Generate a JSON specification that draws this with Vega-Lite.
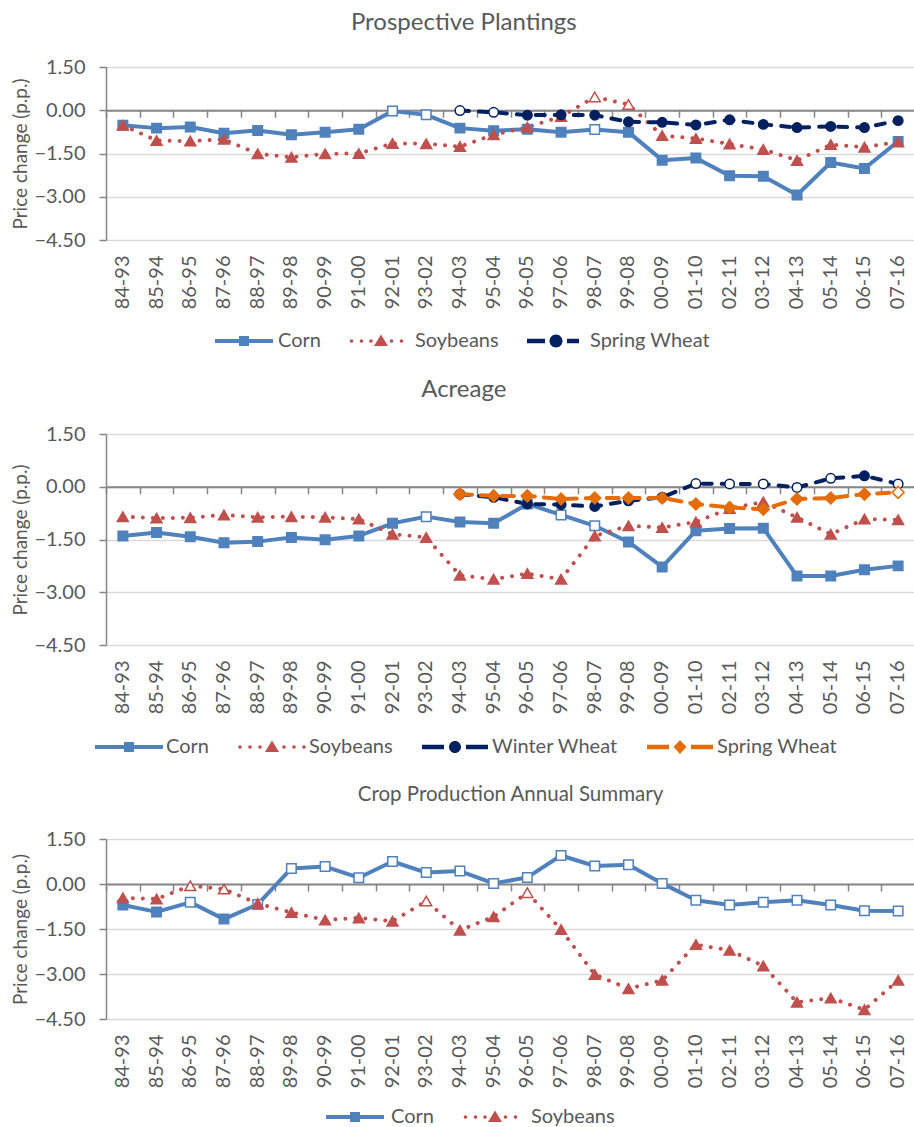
{
"$schema": "https://vega.github.io/schema/vega-lite/v6.json",
"padding": {"left": 11, "top": 11, "right": 0, "bottom": 0},
"bounds": "flush",
"spacing": 194,
"config": {"view": {"stroke": null}, "font": "Lato", "axis": {"labelFont": "Lato", "titleFont": "Lato"}, "legend": {"labelFont": "Lato"}},
"resolve": {"scale": {"fill": "independent", "shape": "independent"}},
"datasets": {
"p1": [
{"c":"84-93","s":"Corn","v":-0.52,"h":0},{"c":"85-94","s":"Corn","v":-0.62,"h":0},{"c":"86-95","s":"Corn","v":-0.58,"h":0},{"c":"87-96","s":"Corn","v":-0.80,"h":0},{"c":"88-97","s":"Corn","v":-0.70,"h":0},{"c":"89-98","s":"Corn","v":-0.85,"h":0},{"c":"90-99","s":"Corn","v":-0.76,"h":0},{"c":"91-00","s":"Corn","v":-0.66,"h":0},{"c":"92-01","s":"Corn","v":-0.03,"h":1},{"c":"93-02","s":"Corn","v":-0.16,"h":1},{"c":"94-03","s":"Corn","v":-0.62,"h":0},{"c":"95-04","s":"Corn","v":-0.71,"h":0},{"c":"96-05","s":"Corn","v":-0.66,"h":0},{"c":"97-06","s":"Corn","v":-0.76,"h":0},{"c":"98-07","s":"Corn","v":-0.67,"h":1},{"c":"99-08","s":"Corn","v":-0.76,"h":0},{"c":"00-09","s":"Corn","v":-1.73,"h":0},{"c":"01-10","s":"Corn","v":-1.66,"h":0},{"c":"02-11","s":"Corn","v":-2.27,"h":0},{"c":"03-12","s":"Corn","v":-2.29,"h":0},{"c":"04-13","s":"Corn","v":-2.94,"h":0},{"c":"05-14","s":"Corn","v":-1.81,"h":0},{"c":"06-15","s":"Corn","v":-2.02,"h":0},{"c":"07-16","s":"Corn","v":-1.08,"h":0},
{"c":"84-93","s":"Soybeans","v":-0.52,"h":0},{"c":"85-94","s":"Soybeans","v":-1.05,"h":0},{"c":"86-95","s":"Soybeans","v":-1.07,"h":0},{"c":"87-96","s":"Soybeans","v":-1.01,"h":0},{"c":"88-97","s":"Soybeans","v":-1.51,"h":0},{"c":"89-98","s":"Soybeans","v":-1.63,"h":0},{"c":"90-99","s":"Soybeans","v":-1.51,"h":0},{"c":"91-00","s":"Soybeans","v":-1.50,"h":0},{"c":"92-01","s":"Soybeans","v":-1.15,"h":0},{"c":"93-02","s":"Soybeans","v":-1.16,"h":0},{"c":"94-03","s":"Soybeans","v":-1.26,"h":0},{"c":"95-04","s":"Soybeans","v":-0.85,"h":0},{"c":"96-05","s":"Soybeans","v":-0.59,"h":0},{"c":"97-06","s":"Soybeans","v":-0.22,"h":0},{"c":"98-07","s":"Soybeans","v":0.46,"h":1},{"c":"99-08","s":"Soybeans","v":0.20,"h":1},{"c":"00-09","s":"Soybeans","v":-0.88,"h":0},{"c":"01-10","s":"Soybeans","v":-0.98,"h":0},{"c":"02-11","s":"Soybeans","v":-1.17,"h":0},{"c":"03-12","s":"Soybeans","v":-1.36,"h":0},{"c":"04-13","s":"Soybeans","v":-1.74,"h":0},{"c":"05-14","s":"Soybeans","v":-1.19,"h":0},{"c":"06-15","s":"Soybeans","v":-1.28,"h":0},{"c":"07-16","s":"Soybeans","v":-1.10,"h":0},
{"c":"94-03","s":"Spring Wheat","v":-0.01,"h":1},{"c":"95-04","s":"Spring Wheat","v":-0.07,"h":1},{"c":"96-05","s":"Spring Wheat","v":-0.17,"h":0},{"c":"97-06","s":"Spring Wheat","v":-0.16,"h":0},{"c":"98-07","s":"Spring Wheat","v":-0.17,"h":0},{"c":"99-08","s":"Spring Wheat","v":-0.40,"h":0},{"c":"00-09","s":"Spring Wheat","v":-0.42,"h":0},{"c":"01-10","s":"Spring Wheat","v":-0.51,"h":0},{"c":"02-11","s":"Spring Wheat","v":-0.33,"h":0},{"c":"03-12","s":"Spring Wheat","v":-0.49,"h":0},{"c":"04-13","s":"Spring Wheat","v":-0.60,"h":0},{"c":"05-14","s":"Spring Wheat","v":-0.56,"h":0},{"c":"06-15","s":"Spring Wheat","v":-0.60,"h":0},{"c":"07-16","s":"Spring Wheat","v":-0.36,"h":0}
],
"p2": [
{"c":"84-93","s":"Corn","v":-1.40,"h":0},{"c":"85-94","s":"Corn","v":-1.30,"h":0},{"c":"86-95","s":"Corn","v":-1.42,"h":0},{"c":"87-96","s":"Corn","v":-1.59,"h":0},{"c":"88-97","s":"Corn","v":-1.56,"h":0},{"c":"89-98","s":"Corn","v":-1.44,"h":0},{"c":"90-99","s":"Corn","v":-1.51,"h":0},{"c":"91-00","s":"Corn","v":-1.40,"h":0},{"c":"92-01","s":"Corn","v":-1.04,"h":0},{"c":"93-02","s":"Corn","v":-0.85,"h":1},{"c":"94-03","s":"Corn","v":-1.00,"h":0},{"c":"95-04","s":"Corn","v":-1.04,"h":0},{"c":"96-05","s":"Corn","v":-0.49,"h":0},{"c":"97-06","s":"Corn","v":-0.80,"h":1},{"c":"98-07","s":"Corn","v":-1.11,"h":1},{"c":"99-08","s":"Corn","v":-1.57,"h":0},{"c":"00-09","s":"Corn","v":-2.28,"h":0},{"c":"01-10","s":"Corn","v":-1.25,"h":0},{"c":"02-11","s":"Corn","v":-1.19,"h":0},{"c":"03-12","s":"Corn","v":-1.18,"h":0},{"c":"04-13","s":"Corn","v":-2.54,"h":0},{"c":"05-14","s":"Corn","v":-2.54,"h":0},{"c":"06-15","s":"Corn","v":-2.36,"h":0},{"c":"07-16","s":"Corn","v":-2.25,"h":0},
{"c":"84-93","s":"Soybeans","v":-0.85,"h":0},{"c":"85-94","s":"Soybeans","v":-0.89,"h":0},{"c":"86-95","s":"Soybeans","v":-0.88,"h":0},{"c":"87-96","s":"Soybeans","v":-0.80,"h":0},{"c":"88-97","s":"Soybeans","v":-0.87,"h":0},{"c":"89-98","s":"Soybeans","v":-0.85,"h":0},{"c":"90-99","s":"Soybeans","v":-0.87,"h":0},{"c":"91-00","s":"Soybeans","v":-0.92,"h":0},{"c":"92-01","s":"Soybeans","v":-1.35,"h":0},{"c":"93-02","s":"Soybeans","v":-1.44,"h":0},{"c":"94-03","s":"Soybeans","v":-2.52,"h":0},{"c":"95-04","s":"Soybeans","v":-2.63,"h":0},{"c":"96-05","s":"Soybeans","v":-2.47,"h":0},{"c":"97-06","s":"Soybeans","v":-2.63,"h":0},{"c":"98-07","s":"Soybeans","v":-1.40,"h":0},{"c":"99-08","s":"Soybeans","v":-1.11,"h":0},{"c":"00-09","s":"Soybeans","v":-1.16,"h":0},{"c":"01-10","s":"Soybeans","v":-1.00,"h":0},{"c":"02-11","s":"Soybeans","v":-0.62,"h":0},{"c":"03-12","s":"Soybeans","v":-0.43,"h":0},{"c":"04-13","s":"Soybeans","v":-0.87,"h":0},{"c":"05-14","s":"Soybeans","v":-1.35,"h":0},{"c":"06-15","s":"Soybeans","v":-0.92,"h":0},{"c":"07-16","s":"Soybeans","v":-0.94,"h":0},
{"c":"94-03","s":"Winter Wheat","v":-0.21,"h":0},{"c":"95-04","s":"Winter Wheat","v":-0.30,"h":0},{"c":"96-05","s":"Winter Wheat","v":-0.49,"h":0},{"c":"97-06","s":"Winter Wheat","v":-0.51,"h":0},{"c":"98-07","s":"Winter Wheat","v":-0.56,"h":0},{"c":"99-08","s":"Winter Wheat","v":-0.40,"h":0},{"c":"00-09","s":"Winter Wheat","v":-0.30,"h":0},{"c":"01-10","s":"Winter Wheat","v":0.09,"h":1},{"c":"02-11","s":"Winter Wheat","v":0.08,"h":1},{"c":"03-12","s":"Winter Wheat","v":0.08,"h":1},{"c":"04-13","s":"Winter Wheat","v":-0.02,"h":1},{"c":"05-14","s":"Winter Wheat","v":0.24,"h":1},{"c":"06-15","s":"Winter Wheat","v":0.31,"h":0},{"c":"07-16","s":"Winter Wheat","v":0.08,"h":1},
{"c":"94-03","s":"Spring Wheat","v":-0.21,"h":0},{"c":"95-04","s":"Spring Wheat","v":-0.26,"h":0},{"c":"96-05","s":"Spring Wheat","v":-0.26,"h":0},{"c":"97-06","s":"Spring Wheat","v":-0.35,"h":0},{"c":"98-07","s":"Spring Wheat","v":-0.32,"h":0},{"c":"99-08","s":"Spring Wheat","v":-0.32,"h":0},{"c":"00-09","s":"Spring Wheat","v":-0.32,"h":0},{"c":"01-10","s":"Spring Wheat","v":-0.49,"h":0},{"c":"02-11","s":"Spring Wheat","v":-0.59,"h":0},{"c":"03-12","s":"Spring Wheat","v":-0.64,"h":0},{"c":"04-13","s":"Spring Wheat","v":-0.35,"h":0},{"c":"05-14","s":"Spring Wheat","v":-0.32,"h":0},{"c":"06-15","s":"Spring Wheat","v":-0.21,"h":0},{"c":"07-16","s":"Spring Wheat","v":-0.16,"h":1}
],
"p3": [
{"c":"84-93","s":"Corn","v":-0.70,"h":0},{"c":"85-94","s":"Corn","v":-0.93,"h":0},{"c":"86-95","s":"Corn","v":-0.61,"h":1},{"c":"87-96","s":"Corn","v":-1.17,"h":0},{"c":"88-97","s":"Corn","v":-0.68,"h":1},{"c":"89-98","s":"Corn","v":0.52,"h":1},{"c":"90-99","s":"Corn","v":0.58,"h":1},{"c":"91-00","s":"Corn","v":0.21,"h":1},{"c":"92-01","s":"Corn","v":0.75,"h":1},{"c":"93-02","s":"Corn","v":0.38,"h":1},{"c":"94-03","s":"Corn","v":0.43,"h":1},{"c":"95-04","s":"Corn","v":0.02,"h":1},{"c":"96-05","s":"Corn","v":0.22,"h":1},{"c":"97-06","s":"Corn","v":0.95,"h":1},{"c":"98-07","s":"Corn","v":0.60,"h":1},{"c":"99-08","s":"Corn","v":0.64,"h":1},{"c":"00-09","s":"Corn","v":0.02,"h":1},{"c":"01-10","s":"Corn","v":-0.54,"h":1},{"c":"02-11","s":"Corn","v":-0.70,"h":1},{"c":"03-12","s":"Corn","v":-0.61,"h":1},{"c":"04-13","s":"Corn","v":-0.54,"h":1},{"c":"05-14","s":"Corn","v":-0.70,"h":1},{"c":"06-15","s":"Corn","v":-0.89,"h":1},{"c":"07-16","s":"Corn","v":-0.90,"h":1},
{"c":"84-93","s":"Soybeans","v":-0.46,"h":0},{"c":"85-94","s":"Soybeans","v":-0.50,"h":0},{"c":"86-95","s":"Soybeans","v":-0.06,"h":1},{"c":"87-96","s":"Soybeans","v":-0.17,"h":1},{"c":"88-97","s":"Soybeans","v":-0.65,"h":0},{"c":"89-98","s":"Soybeans","v":-0.95,"h":0},{"c":"90-99","s":"Soybeans","v":-1.20,"h":0},{"c":"91-00","s":"Soybeans","v":-1.13,"h":0},{"c":"92-01","s":"Soybeans","v":-1.24,"h":0},{"c":"93-02","s":"Soybeans","v":-0.57,"h":1},{"c":"94-03","s":"Soybeans","v":-1.54,"h":0},{"c":"95-04","s":"Soybeans","v":-1.09,"h":0},{"c":"96-05","s":"Soybeans","v":-0.29,"h":1},{"c":"97-06","s":"Soybeans","v":-1.52,"h":0},{"c":"98-07","s":"Soybeans","v":-3.02,"h":0},{"c":"99-08","s":"Soybeans","v":-3.49,"h":0},{"c":"00-09","s":"Soybeans","v":-3.21,"h":0},{"c":"01-10","s":"Soybeans","v":-2.02,"h":0},{"c":"02-11","s":"Soybeans","v":-2.21,"h":0},{"c":"03-12","s":"Soybeans","v":-2.73,"h":0},{"c":"04-13","s":"Soybeans","v":-3.94,"h":0},{"c":"05-14","s":"Soybeans","v":-3.80,"h":0},{"c":"06-15","s":"Soybeans","v":-4.19,"h":0},{"c":"07-16","s":"Soybeans","v":-3.21,"h":0}
]
},
"vconcat": [
{
"width": 809, "height": 173,
"title": {"text": "Prospective Plantings", "fontSize": 24, "font": "Lato", "color": "#595959", "fontWeight": "normal", "anchor": "middle", "frame": "bounds", "offset": 22},
"data": {"name": "p1"},
"layer": [
{"transform": [{"filter": "datum.s==='Corn'"}], "mark": {"type": "line", "color": "#4f81bd", "strokeWidth": 4, "strokeCap": "round", "strokeJoin": "round"},
 "encoding": {"x": {"field": "c", "type": "ordinal", "scale": {"type": "band", "domain": ["84-93","85-94","86-95","87-96","88-97","89-98","90-99","91-00","92-01","93-02","94-03","95-04","96-05","97-06","98-07","99-08","00-09","01-10","02-11","03-12","04-13","05-14","06-15","07-16"], "paddingInner": 0, "paddingOuter": 0}, "axis": {"orient": "bottom", "labelAngle": -90, "labelFontSize": 20, "labelColor": "#595959", "labelPadding": 15, "ticks": false, "domain": false, "grid": false, "title": null}},
  "y": {"field": "v", "type": "quantitative", "scale": {"domain": [-4.5, 1.5], "nice": false, "zero": false}, "axis": {"values": [-4.5, -3, -1.5, 0, 1.5], "format": ".2f", "grid": true, "gridColor": "#d9d9d9", "gridWidth": 1.3, "domain": true, "domainColor": "#868686", "domainWidth": 1.5, "ticks": true, "tickSize": 7, "tickColor": "#868686", "tickWidth": 1.5, "labelFontSize": 20, "labelColor": "#595959", "labelPadding": 14, "title": "Price change (p.p.)", "titleFontSize": 19, "titleColor": "#595959", "titleFontWeight": "normal", "titlePadding": 3}}}},
{"transform": [{"filter": "datum.s==='Soybeans'"}], "mark": {"type": "line", "color": "#c0504d", "strokeWidth": 4, "strokeDash": [0.01, 10], "strokeCap": "round"},
 "encoding": {"x": {"field": "c", "type": "ordinal", "scale": {"type": "band", "domain": ["84-93","85-94","86-95","87-96","88-97","89-98","90-99","91-00","92-01","93-02","94-03","95-04","96-05","97-06","98-07","99-08","00-09","01-10","02-11","03-12","04-13","05-14","06-15","07-16"], "paddingInner": 0, "paddingOuter": 0}, "axis": {"orient": "top", "offset": -43.25, "labels": false, "ticks": true, "tickBand": "extent", "tickSize": -7, "tickColor": "#868686", "tickWidth": 1.5, "domain": true, "domainColor": "#868686", "domainWidth": 1.8, "grid": false, "title": null, "zindex": 0}},
  "y": {"field": "v", "type": "quantitative", "scale": {"domain": [-4.5, 1.5], "nice": false, "zero": false}}}},
{"transform": [{"filter": "datum.s==='Spring Wheat'"}], "mark": {"type": "line", "color": "#002060", "strokeWidth": 4, "strokeDash": [9, 10], "strokeCap": "round"},
 "encoding": {"x": {"field": "c", "type": "ordinal", "scale": {"type": "band", "domain": ["84-93","85-94","86-95","87-96","88-97","89-98","90-99","91-00","92-01","93-02","94-03","95-04","96-05","97-06","98-07","99-08","00-09","01-10","02-11","03-12","04-13","05-14","06-15","07-16"], "paddingInner": 0, "paddingOuter": 0}, "axis": null},
  "y": {"field": "v", "type": "quantitative", "scale": {"domain": [-4.5, 1.5], "nice": false, "zero": false}}}},
{"transform": [{"filter": "datum.s==='Corn'"}], "mark": {"type": "point", "shape": "square", "size": 90, "stroke": "#4f81bd", "strokeWidth": 1.5, "opacity": 1, "filled": true},
 "encoding": {"x": {"field": "c", "type": "ordinal", "scale": {"type": "band", "domain": ["84-93","85-94","86-95","87-96","88-97","89-98","90-99","91-00","92-01","93-02","94-03","95-04","96-05","97-06","98-07","99-08","00-09","01-10","02-11","03-12","04-13","05-14","06-15","07-16"], "paddingInner": 0, "paddingOuter": 0}, "axis": null},
  "y": {"field": "v", "type": "quantitative", "scale": {"domain": [-4.5, 1.5], "nice": false, "zero": false}},
  "fill": {"condition": {"test": "datum.h===1", "value": "white"}, "value": "#4f81bd"}}},
{"transform": [{"filter": "datum.s==='Soybeans'"}], "mark": {"type": "point", "shape": "triangle-up", "size": 120, "stroke": "#c0504d", "strokeWidth": 1.5, "opacity": 1, "filled": true},
 "encoding": {"x": {"field": "c", "type": "ordinal", "scale": {"type": "band", "domain": ["84-93","85-94","86-95","87-96","88-97","89-98","90-99","91-00","92-01","93-02","94-03","95-04","96-05","97-06","98-07","99-08","00-09","01-10","02-11","03-12","04-13","05-14","06-15","07-16"], "paddingInner": 0, "paddingOuter": 0}, "axis": null},
  "y": {"field": "v", "type": "quantitative", "scale": {"domain": [-4.5, 1.5], "nice": false, "zero": false}},
  "fill": {"condition": {"test": "datum.h===1", "value": "white"}, "value": "#c0504d"}}},
{"transform": [{"filter": "datum.s==='Spring Wheat'"}], "mark": {"type": "point", "shape": "circle", "size": 90, "stroke": "#002060", "strokeWidth": 1.5, "opacity": 1, "filled": true},
 "encoding": {"x": {"field": "c", "type": "ordinal", "scale": {"type": "band", "domain": ["84-93","85-94","86-95","87-96","88-97","89-98","90-99","91-00","92-01","93-02","94-03","95-04","96-05","97-06","98-07","99-08","00-09","01-10","02-11","03-12","04-13","05-14","06-15","07-16"], "paddingInner": 0, "paddingOuter": 0}, "axis": null},
  "y": {"field": "v", "type": "quantitative", "scale": {"domain": [-4.5, 1.5], "nice": false, "zero": false}},
  "fill": {"condition": {"test": "datum.h===1", "value": "white"}, "value": "#002060"}}},
{"transform": [{"filter": "false"}], "mark": {"type": "point", "filled": true, "opacity": 1},
 "encoding": {"x": {"field": "c", "type": "ordinal", "scale": {"type": "band", "domain": ["84-93","85-94","86-95","87-96","88-97","89-98","90-99","91-00","92-01","93-02","94-03","95-04","96-05","97-06","98-07","99-08","00-09","01-10","02-11","03-12","04-13","05-14","06-15","07-16"], "paddingInner": 0, "paddingOuter": 0}, "axis": null},
  "y": {"field": "v", "type": "quantitative", "scale": {"domain": [-4.5, 1.5], "nice": false, "zero": false}},
  "shape": {"field": "s", "type": "nominal", "scale": {"domain": ["Corn", "Soybeans", "Spring Wheat"], "range": [
    "M-2.9,-0.2H2.9V0.2H-2.9ZM-0.5,-0.5H0.5V0.5H-0.5Z",
    "M-3.13,0a0.18,0.18 0 1,0 0.36,0a0.18,0.18 0 1,0 -0.36,0ZM-2.13,0a0.18,0.18 0 1,0 0.36,0a0.18,0.18 0 1,0 -0.36,0ZM-1.18,0a0.18,0.18 0 1,0 0.36,0a0.18,0.18 0 1,0 -0.36,0ZM0.87,0a0.18,0.18 0 1,0 0.36,0a0.18,0.18 0 1,0 -0.36,0ZM1.87,0a0.18,0.18 0 1,0 0.36,0a0.18,0.18 0 1,0 -0.36,0ZM0,-0.65L0.7,0.5H-0.7Z",
    "M-2.9,-0.22H-1.1V0.22H-2.9ZM1.1,-0.22H2.3V0.22H1.1ZM-0.65,0a0.65,0.65 0 1,0 1.3,0a0.65,0.65 0 1,0 -1.3,0Z"]},
   "legend": {"orient": "none", "legendX": 108, "legendY": 263, "direction": "horizontal", "title": null, "padding": 0, "symbolSize": 400, "symbolOffset": 19, "labelOffset": 23, "columnPadding": 25, "labelFontSize": 20, "labelColor": "#595959", "labelFont": "Lato"}},
  "fill": {"field": "s", "type": "nominal", "scale": {"domain": ["Corn", "Soybeans", "Spring Wheat"], "range": ["#4f81bd", "#c0504d", "#002060"]},
   "legend": {"orient": "none", "legendX": 108, "legendY": 263, "direction": "horizontal", "title": null, "padding": 0, "symbolSize": 400, "symbolOffset": 19, "labelOffset": 23, "columnPadding": 25, "labelFontSize": 20, "labelColor": "#595959", "labelFont": "Lato"}}}}
]
},
{
"width": 809, "height": 211,
"title": {"text": "Acreage", "fontSize": 24, "font": "Lato", "color": "#595959", "fontWeight": "normal", "anchor": "middle", "frame": "bounds", "offset": 22},
"data": {"name": "p2"},
"layer": [
{"transform": [{"filter": "datum.s==='Corn'"}], "mark": {"type": "line", "color": "#4f81bd", "strokeWidth": 4, "strokeCap": "round", "strokeJoin": "round"},
 "encoding": {"x": {"field": "c", "type": "ordinal", "scale": {"type": "band", "domain": ["84-93","85-94","86-95","87-96","88-97","89-98","90-99","91-00","92-01","93-02","94-03","95-04","96-05","97-06","98-07","99-08","00-09","01-10","02-11","03-12","04-13","05-14","06-15","07-16"], "paddingInner": 0, "paddingOuter": 0}, "axis": {"orient": "bottom", "labelAngle": -90, "labelFontSize": 20, "labelColor": "#595959", "labelPadding": 15, "ticks": false, "domain": false, "grid": false, "title": null}},
  "y": {"field": "v", "type": "quantitative", "scale": {"domain": [-4.5, 1.5], "nice": false, "zero": false}, "axis": {"values": [-4.5, -3, -1.5, 0, 1.5], "format": ".2f", "grid": true, "gridColor": "#d9d9d9", "gridWidth": 1.3, "domain": true, "domainColor": "#868686", "domainWidth": 1.5, "ticks": true, "tickSize": 7, "tickColor": "#868686", "tickWidth": 1.5, "labelFontSize": 20, "labelColor": "#595959", "labelPadding": 14, "title": "Price change (p.p.)", "titleFontSize": 19, "titleColor": "#595959", "titleFontWeight": "normal", "titlePadding": 3}}}},
{"transform": [{"filter": "datum.s==='Soybeans'"}], "mark": {"type": "line", "color": "#c0504d", "strokeWidth": 4, "strokeDash": [0.01, 10], "strokeCap": "round"},
 "encoding": {"x": {"field": "c", "type": "ordinal", "scale": {"type": "band", "domain": ["84-93","85-94","86-95","87-96","88-97","89-98","90-99","91-00","92-01","93-02","94-03","95-04","96-05","97-06","98-07","99-08","00-09","01-10","02-11","03-12","04-13","05-14","06-15","07-16"], "paddingInner": 0, "paddingOuter": 0}, "axis": {"orient": "top", "offset": -52.75, "labels": false, "ticks": true, "tickBand": "extent", "tickSize": -7, "tickColor": "#868686", "tickWidth": 1.5, "domain": true, "domainColor": "#868686", "domainWidth": 1.8, "grid": false, "title": null, "zindex": 0}},
  "y": {"field": "v", "type": "quantitative", "scale": {"domain": [-4.5, 1.5], "nice": false, "zero": false}}}},
{"transform": [{"filter": "datum.s==='Winter Wheat'"}], "mark": {"type": "line", "color": "#002060", "strokeWidth": 4, "strokeDash": [9, 10], "strokeCap": "round"},
 "encoding": {"x": {"field": "c", "type": "ordinal", "scale": {"type": "band", "domain": ["84-93","85-94","86-95","87-96","88-97","89-98","90-99","91-00","92-01","93-02","94-03","95-04","96-05","97-06","98-07","99-08","00-09","01-10","02-11","03-12","04-13","05-14","06-15","07-16"], "paddingInner": 0, "paddingOuter": 0}, "axis": null},
  "y": {"field": "v", "type": "quantitative", "scale": {"domain": [-4.5, 1.5], "nice": false, "zero": false}}}},
{"transform": [{"filter": "datum.s==='Spring Wheat'"}], "mark": {"type": "line", "color": "#e46c0a", "strokeWidth": 4, "strokeDash": [12, 9], "strokeCap": "round"},
 "encoding": {"x": {"field": "c", "type": "ordinal", "scale": {"type": "band", "domain": ["84-93","85-94","86-95","87-96","88-97","89-98","90-99","91-00","92-01","93-02","94-03","95-04","96-05","97-06","98-07","99-08","00-09","01-10","02-11","03-12","04-13","05-14","06-15","07-16"], "paddingInner": 0, "paddingOuter": 0}, "axis": null},
  "y": {"field": "v", "type": "quantitative", "scale": {"domain": [-4.5, 1.5], "nice": false, "zero": false}}}},
{"transform": [{"filter": "datum.s==='Corn'"}], "mark": {"type": "point", "shape": "square", "size": 90, "stroke": "#4f81bd", "strokeWidth": 1.5, "opacity": 1, "filled": true},
 "encoding": {"x": {"field": "c", "type": "ordinal", "scale": {"type": "band", "domain": ["84-93","85-94","86-95","87-96","88-97","89-98","90-99","91-00","92-01","93-02","94-03","95-04","96-05","97-06","98-07","99-08","00-09","01-10","02-11","03-12","04-13","05-14","06-15","07-16"], "paddingInner": 0, "paddingOuter": 0}, "axis": null},
  "y": {"field": "v", "type": "quantitative", "scale": {"domain": [-4.5, 1.5], "nice": false, "zero": false}},
  "fill": {"condition": {"test": "datum.h===1", "value": "white"}, "value": "#4f81bd"}}},
{"transform": [{"filter": "datum.s==='Soybeans'"}], "mark": {"type": "point", "shape": "triangle-up", "size": 120, "stroke": "#c0504d", "strokeWidth": 1.5, "opacity": 1, "filled": true},
 "encoding": {"x": {"field": "c", "type": "ordinal", "scale": {"type": "band", "domain": ["84-93","85-94","86-95","87-96","88-97","89-98","90-99","91-00","92-01","93-02","94-03","95-04","96-05","97-06","98-07","99-08","00-09","01-10","02-11","03-12","04-13","05-14","06-15","07-16"], "paddingInner": 0, "paddingOuter": 0}, "axis": null},
  "y": {"field": "v", "type": "quantitative", "scale": {"domain": [-4.5, 1.5], "nice": false, "zero": false}},
  "fill": {"condition": {"test": "datum.h===1", "value": "white"}, "value": "#c0504d"}}},
{"transform": [{"filter": "datum.s==='Winter Wheat'"}], "mark": {"type": "point", "shape": "circle", "size": 90, "stroke": "#002060", "strokeWidth": 1.5, "opacity": 1, "filled": true},
 "encoding": {"x": {"field": "c", "type": "ordinal", "scale": {"type": "band", "domain": ["84-93","85-94","86-95","87-96","88-97","89-98","90-99","91-00","92-01","93-02","94-03","95-04","96-05","97-06","98-07","99-08","00-09","01-10","02-11","03-12","04-13","05-14","06-15","07-16"], "paddingInner": 0, "paddingOuter": 0}, "axis": null},
  "y": {"field": "v", "type": "quantitative", "scale": {"domain": [-4.5, 1.5], "nice": false, "zero": false}},
  "fill": {"condition": {"test": "datum.h===1", "value": "white"}, "value": "#002060"}}},
{"transform": [{"filter": "datum.s==='Spring Wheat'"}], "mark": {"type": "point", "shape": "diamond", "size": 144, "stroke": "#e46c0a", "strokeWidth": 1.5, "opacity": 1, "filled": true},
 "encoding": {"x": {"field": "c", "type": "ordinal", "scale": {"type": "band", "domain": ["84-93","85-94","86-95","87-96","88-97","89-98","90-99","91-00","92-01","93-02","94-03","95-04","96-05","97-06","98-07","99-08","00-09","01-10","02-11","03-12","04-13","05-14","06-15","07-16"], "paddingInner": 0, "paddingOuter": 0}, "axis": null},
  "y": {"field": "v", "type": "quantitative", "scale": {"domain": [-4.5, 1.5], "nice": false, "zero": false}},
  "fill": {"condition": {"test": "datum.h===1", "value": "white"}, "value": "#e46c0a"}}},
{"transform": [{"filter": "false"}], "mark": {"type": "point", "filled": true, "opacity": 1},
 "encoding": {"x": {"field": "c", "type": "ordinal", "scale": {"type": "band", "domain": ["84-93","85-94","86-95","87-96","88-97","89-98","90-99","91-00","92-01","93-02","94-03","95-04","96-05","97-06","98-07","99-08","00-09","01-10","02-11","03-12","04-13","05-14","06-15","07-16"], "paddingInner": 0, "paddingOuter": 0}, "axis": null},
  "y": {"field": "v", "type": "quantitative", "scale": {"domain": [-4.5, 1.5], "nice": false, "zero": false}},
  "shape": {"field": "s", "type": "nominal", "scale": {"domain": ["Corn", "Soybeans", "Winter Wheat", "Spring Wheat"], "range": [
    "M-3.4,-0.2H3.4V0.2H-3.4ZM-0.5,-0.5H0.5V0.5H-0.5Z",
    "M-3.38,0a0.18,0.18 0 1,0 0.36,0a0.18,0.18 0 1,0 -0.36,0ZM-2.38,0a0.18,0.18 0 1,0 0.36,0a0.18,0.18 0 1,0 -0.36,0ZM-1.38,0a0.18,0.18 0 1,0 0.36,0a0.18,0.18 0 1,0 -0.36,0ZM1.02,0a0.18,0.18 0 1,0 0.36,0a0.18,0.18 0 1,0 -0.36,0ZM2.02,0a0.18,0.18 0 1,0 0.36,0a0.18,0.18 0 1,0 -0.36,0ZM3.02,0a0.18,0.18 0 1,0 0.36,0a0.18,0.18 0 1,0 -0.36,0ZM0,-0.65L0.7,0.5H-0.7Z",
    "M-3.3,-0.22H-1.1V0.22H-3.3ZM1.1,-0.22H3.3V0.22H1.1ZM-0.6,0a0.6,0.6 0 1,0 1.2,0a0.6,0.6 0 1,0 -1.2,0Z",
    "M-3.3,-0.22H-1.1V0.22H-3.3ZM1.1,-0.22H3.3V0.22H1.1ZM0,-0.7L0.65,0L0,0.7L-0.65,0Z"]},
   "legend": {"orient": "none", "legendX": -12, "legendY": 302, "direction": "horizontal", "title": null, "padding": 0, "symbolSize": 400, "symbolOffset": 24, "labelOffset": 26, "columnPadding": 26, "labelFontSize": 20, "labelColor": "#595959", "labelFont": "Lato"}},
  "fill": {"field": "s", "type": "nominal", "scale": {"domain": ["Corn", "Soybeans", "Winter Wheat", "Spring Wheat"], "range": ["#4f81bd", "#c0504d", "#002060", "#e46c0a"]},
   "legend": {"orient": "none", "legendX": -12, "legendY": 302, "direction": "horizontal", "title": null, "padding": 0, "symbolSize": 400, "symbolOffset": 24, "labelOffset": 26, "columnPadding": 26, "labelFontSize": 20, "labelColor": "#595959", "labelFont": "Lato"}}}}
]
},
{
"width": 809, "height": 180,
"title": {"text": "Crop Production Annual Summary", "fontSize": 20.5, "font": "Lato", "color": "#595959", "fontWeight": "normal", "anchor": "middle", "frame": "group", "offset": 24},
"data": {"name": "p3"},
"layer": [
{"transform": [{"filter": "datum.s==='Corn'"}], "mark": {"type": "line", "color": "#4f81bd", "strokeWidth": 4, "strokeCap": "round", "strokeJoin": "round"},
 "encoding": {"x": {"field": "c", "type": "ordinal", "scale": {"type": "band", "domain": ["84-93","85-94","86-95","87-96","88-97","89-98","90-99","91-00","92-01","93-02","94-03","95-04","96-05","97-06","98-07","99-08","00-09","01-10","02-11","03-12","04-13","05-14","06-15","07-16"], "paddingInner": 0, "paddingOuter": 0}, "axis": {"orient": "bottom", "labelAngle": -90, "labelFontSize": 20, "labelColor": "#595959", "labelPadding": 15, "ticks": false, "domain": false, "grid": false, "title": null}},
  "y": {"field": "v", "type": "quantitative", "scale": {"domain": [-4.5, 1.5], "nice": false, "zero": false}, "axis": {"values": [-4.5, -3, -1.5, 0, 1.5], "format": ".2f", "grid": true, "gridColor": "#d9d9d9", "gridWidth": 1.3, "domain": true, "domainColor": "#868686", "domainWidth": 1.5, "ticks": true, "tickSize": 7, "tickColor": "#868686", "tickWidth": 1.5, "labelFontSize": 20, "labelColor": "#595959", "labelPadding": 14, "title": "Price change (p.p.)", "titleFontSize": 19, "titleColor": "#595959", "titleFontWeight": "normal", "titlePadding": 3}}}},
{"transform": [{"filter": "datum.s==='Soybeans'"}], "mark": {"type": "line", "color": "#c0504d", "strokeWidth": 4, "strokeDash": [0.01, 10], "strokeCap": "round"},
 "encoding": {"x": {"field": "c", "type": "ordinal", "scale": {"type": "band", "domain": ["84-93","85-94","86-95","87-96","88-97","89-98","90-99","91-00","92-01","93-02","94-03","95-04","96-05","97-06","98-07","99-08","00-09","01-10","02-11","03-12","04-13","05-14","06-15","07-16"], "paddingInner": 0, "paddingOuter": 0}, "axis": {"orient": "top", "offset": -45, "labels": false, "ticks": true, "tickBand": "extent", "tickSize": -7, "tickColor": "#868686", "tickWidth": 1.5, "domain": true, "domainColor": "#868686", "domainWidth": 1.8, "grid": false, "title": null, "zindex": 0}},
  "y": {"field": "v", "type": "quantitative", "scale": {"domain": [-4.5, 1.5], "nice": false, "zero": false}}}},
{"transform": [{"filter": "datum.s==='Corn'"}], "mark": {"type": "point", "shape": "square", "size": 90, "stroke": "#4f81bd", "strokeWidth": 1.5, "opacity": 1, "filled": true},
 "encoding": {"x": {"field": "c", "type": "ordinal", "scale": {"type": "band", "domain": ["84-93","85-94","86-95","87-96","88-97","89-98","90-99","91-00","92-01","93-02","94-03","95-04","96-05","97-06","98-07","99-08","00-09","01-10","02-11","03-12","04-13","05-14","06-15","07-16"], "paddingInner": 0, "paddingOuter": 0}, "axis": null},
  "y": {"field": "v", "type": "quantitative", "scale": {"domain": [-4.5, 1.5], "nice": false, "zero": false}},
  "fill": {"condition": {"test": "datum.h===1", "value": "white"}, "value": "#4f81bd"}}},
{"transform": [{"filter": "datum.s==='Soybeans'"}], "mark": {"type": "point", "shape": "triangle-up", "size": 120, "stroke": "#c0504d", "strokeWidth": 1.5, "opacity": 1, "filled": true},
 "encoding": {"x": {"field": "c", "type": "ordinal", "scale": {"type": "band", "domain": ["84-93","85-94","86-95","87-96","88-97","89-98","90-99","91-00","92-01","93-02","94-03","95-04","96-05","97-06","98-07","99-08","00-09","01-10","02-11","03-12","04-13","05-14","06-15","07-16"], "paddingInner": 0, "paddingOuter": 0}, "axis": null},
  "y": {"field": "v", "type": "quantitative", "scale": {"domain": [-4.5, 1.5], "nice": false, "zero": false}},
  "fill": {"condition": {"test": "datum.h===1", "value": "white"}, "value": "#c0504d"}}},
{"transform": [{"filter": "false"}], "mark": {"type": "point", "filled": true, "opacity": 1},
 "encoding": {"x": {"field": "c", "type": "ordinal", "scale": {"type": "band", "domain": ["84-93","85-94","86-95","87-96","88-97","89-98","90-99","91-00","92-01","93-02","94-03","95-04","96-05","97-06","98-07","99-08","00-09","01-10","02-11","03-12","04-13","05-14","06-15","07-16"], "paddingInner": 0, "paddingOuter": 0}, "axis": null},
  "y": {"field": "v", "type": "quantitative", "scale": {"domain": [-4.5, 1.5], "nice": false, "zero": false}},
  "shape": {"field": "s", "type": "nominal", "scale": {"domain": ["Corn", "Soybeans"], "range": [
    "M-2.9,-0.2H2.9V0.2H-2.9ZM-0.5,-0.5H0.5V0.5H-0.5Z",
    "M-3.13,0a0.18,0.18 0 1,0 0.36,0a0.18,0.18 0 1,0 -0.36,0ZM-2.13,0a0.18,0.18 0 1,0 0.36,0a0.18,0.18 0 1,0 -0.36,0ZM-1.18,0a0.18,0.18 0 1,0 0.36,0a0.18,0.18 0 1,0 -0.36,0ZM0.87,0a0.18,0.18 0 1,0 0.36,0a0.18,0.18 0 1,0 -0.36,0ZM1.87,0a0.18,0.18 0 1,0 0.36,0a0.18,0.18 0 1,0 -0.36,0ZM0,-0.65L0.7,0.5H-0.7Z"]},
   "legend": {"orient": "none", "legendX": 219, "legendY": 267, "direction": "horizontal", "title": null, "padding": 0, "symbolSize": 400, "symbolOffset": 19, "labelOffset": 25, "columnPadding": 26, "labelFontSize": 20, "labelColor": "#595959", "labelFont": "Lato"}},
  "fill": {"field": "s", "type": "nominal", "scale": {"domain": ["Corn", "Soybeans"], "range": ["#4f81bd", "#c0504d"]},
   "legend": {"orient": "none", "legendX": 219, "legendY": 267, "direction": "horizontal", "title": null, "padding": 0, "symbolSize": 400, "symbolOffset": 19, "labelOffset": 25, "columnPadding": 26, "labelFontSize": 20, "labelColor": "#595959", "labelFont": "Lato"}}}}
]
}
]
}
